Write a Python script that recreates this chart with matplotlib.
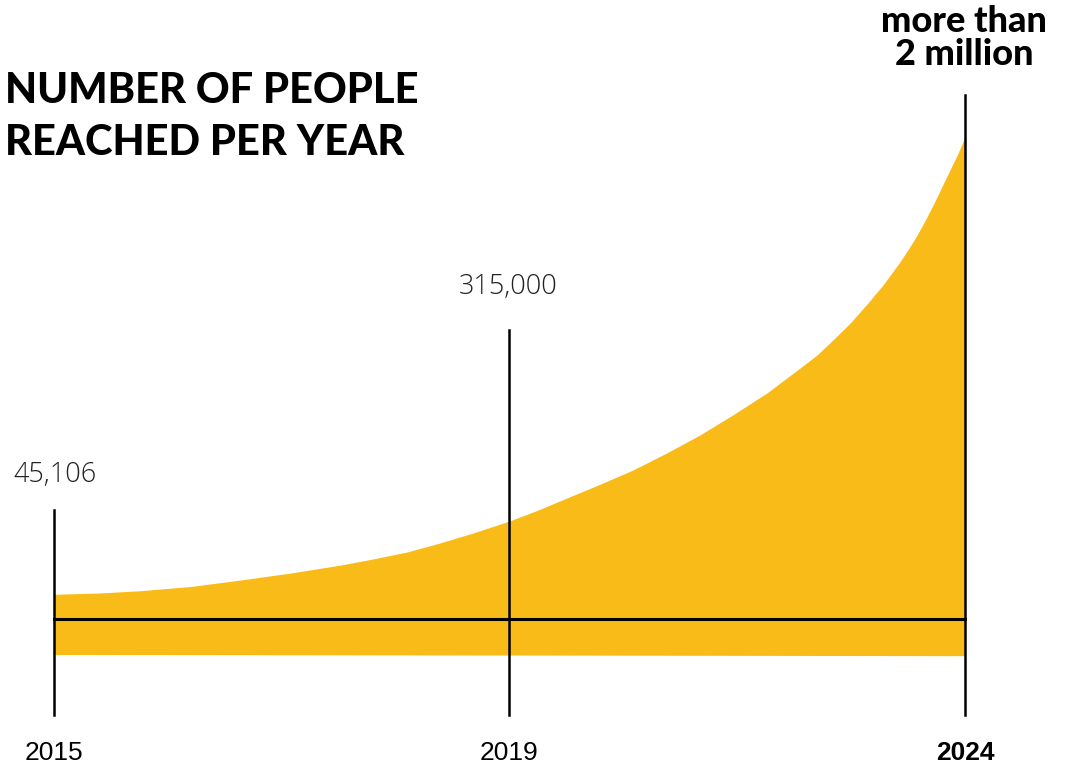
import matplotlib
matplotlib.use("Agg")
import matplotlib.pyplot as plt
import numpy as np

# year slots along the timeline (evenly spaced, not proportional to time)
years = ["2015", "2019", "2024"]
year_pos = [0, 1, 2]
reached = ["45,106", "315,000"]
reached_last = ["more than", "2 million"]

# upper edge of the band, sampled along the timeline (height above the centre line)
edge_pos = [0.0, 0.10, 0.19, 0.30, 0.41, 0.52, 0.63, 0.70, 0.775, 0.847, 0.92,
            1.0, 1.063, 1.126, 1.20, 1.271, 1.345, 1.418, 1.49, 1.565, 1.638,
            1.675, 1.71, 1.748, 1.785, 1.82, 1.857, 1.876, 1.895, 1.913,
            1.93, 1.948, 1.967, 1.984, 2.0]
edge_top = [24.7, 26, 28.3, 32.5, 39, 46, 54, 60, 67, 76, 86,
            98, 109, 121, 135, 149, 166, 184, 204, 226, 251,
            264, 279, 296, 315, 334, 357, 370, 384, 399,
            414, 431, 449, 465, 482]
# lower edge stays almost flat
base_pos = [0, 1, 2]
base_low = [-35.5, -36, -36.7]

# top of each year marker
marker_top = [109, 289, 524]

YELLOW = "#F9BB18"

fig = plt.figure(figsize=(10.67, 7.63), dpi=100)
ax = fig.add_axes([0, 0, 1, 1])
ax.set_xlim(-0.1186, 2.224)
ax.set_ylim(-144, 619)
ax.axis("off")

low = np.interp(edge_pos, base_pos, base_low)
ax.fill_between(edge_pos, low, edge_top, color=YELLOW, lw=0)

ax.plot([year_pos[0], year_pos[-1]], [0, 0], color="black", lw=2.2)
for p, top in zip(year_pos, marker_top):
    ax.plot([p, p], [-96, top], color="black", lw=1.8)

# value labels above the first two markers
ax.text(year_pos[0] + 0.003, marker_top[0] + 28, reached[0], ha="center", va="baseline",
        family="Open Sans", weight="light", fontsize=19.5, color="#222222")
ax.text(year_pos[1] - 0.002, marker_top[1] + 36, reached[1], ha="center", va="baseline",
        family="Open Sans", weight="light", fontsize=19.5, color="#222222")

# headline value over the last marker
ax.text(year_pos[2] - 0.002, 587, reached_last[0], ha="center", va="baseline",
        family="Lato", weight="black", fontsize=26, color="black")
ax.text(year_pos[2] - 0.002, 554, reached_last[1], ha="center", va="baseline",
        family="Lato", weight="black", fontsize=26, color="black")

for p, lab in zip(year_pos, years):
    bold = lab == years[-1]
    ax.text(p, -141, lab, ha="center", va="baseline",
            family="Liberation Sans",
            weight="bold" if bold else "normal", fontsize=19, color="black")

fig.text(0.005, 1 - 103 / 763, "NUMBER OF PEOPLE", ha="left", va="baseline",
         family="Lato", weight="black", fontsize=30, color="black")
fig.text(0.005, 1 - 155 / 763, "REACHED PER YEAR", ha="left", va="baseline",
         family="Lato", weight="black", fontsize=30, color="black")

fig.savefig("out.png", dpi=100)
